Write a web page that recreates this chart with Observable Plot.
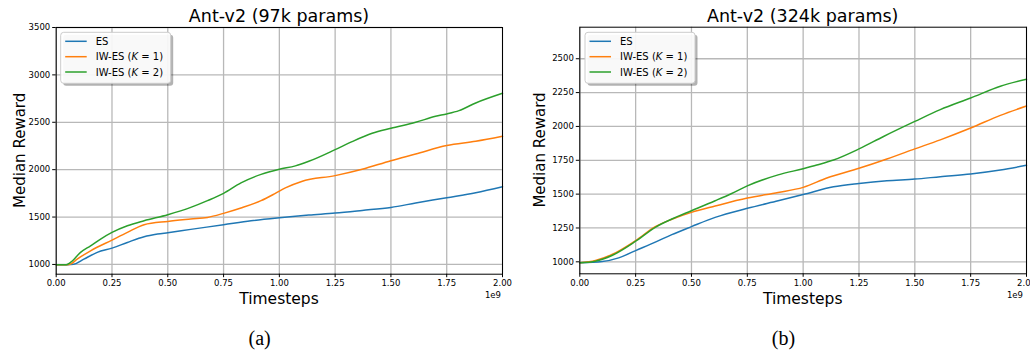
<!DOCTYPE html>
<html><head><meta charset="utf-8">
<script src="https://cdn.jsdelivr.net/npm/d3@7"></script>
<script src="https://cdn.jsdelivr.net/npm/@observablehq/plot@0.6"></script>
<style>
body{margin:0;background:#fff;}
#root{position:relative;width:1030px;height:352px;overflow:hidden;background:#fff}
#root svg{position:absolute;top:0}
</style>
</head><body><div id="root"></div>
<script>
// ---------- data (timesteps in units of 1e9) ----------
const seriesNames = ["ES", "IW-ES (K = 1)", "IW-ES (K = 2)"];
const seriesColors = ["#1f77b4", "#ff7f0e", "#2ca02c"];
const xTicks = [0, 0.25, 0.5, 0.75, 1.0, 1.25, 1.5, 1.75, 2.0];

// Panel (a): Ant-v2 (97k params)
const a_es_t = [0, 0.05, 0.079, 0.124, 0.184, 0.25, 0.319, 0.394, 0.454, 0.5, 0.603, 0.75, 0.873, 1.0, 1.132, 1.25, 1.371, 1.5, 1.611, 1.75, 1.88, 2.0];
const a_es_v = [998, 998, 1003, 1056, 1127, 1172, 1232, 1292, 1320, 1335, 1370, 1419, 1461, 1493, 1521, 1542, 1570, 1602, 1648, 1704, 1757, 1820];
const a_k1_t = [0, 0.05, 0.064, 0.094, 0.154, 0.25, 0.319, 0.394, 0.5, 0.603, 0.678, 0.75, 0.828, 0.918, 0.982, 1.027, 1.10, 1.25, 1.371, 1.5, 1.611, 1.75, 1.88, 2.0];
const a_k1_v = [998, 998, 1003, 1056, 1144, 1257, 1338, 1419, 1454, 1479, 1496, 1539, 1595, 1673, 1750, 1808, 1876, 1937, 2004, 2095, 2165, 2254, 2299, 2352];
const a_k2_t = [0, 0.045, 0.064, 0.109, 0.154, 0.199, 0.25, 0.319, 0.394, 0.5, 0.603, 0.678, 0.75, 0.828, 0.918, 1.0, 1.072, 1.132, 1.25, 1.326, 1.416, 1.5, 1.611, 1.70, 1.75, 1.805, 1.88, 2.0];
const a_k2_v = [998, 998, 1021, 1127, 1197, 1268, 1338, 1408, 1461, 1525, 1602, 1673, 1750, 1860, 1950, 2004, 2040, 2088, 2211, 2296, 2384, 2437, 2500, 2563, 2588, 2623, 2704, 2806];
const a_yTicks = [1000, 1500, 2000, 2500, 3000, 3500];

// Panel (b): Ant-v2 (324k params)
const b_es_t = [0, 0.1, 0.174, 0.25, 0.338, 0.412, 0.5, 0.606, 0.75, 0.888, 1.0, 1.136, 1.25, 1.375, 1.5, 1.614, 1.75, 1.883, 2.0];
const b_es_v = [993, 1002, 1029, 1083, 1145, 1201, 1260, 1328, 1395, 1451, 1497, 1554, 1579, 1599, 1611, 1629, 1649, 1678, 1713];
const b_k1_t = [0, 0.07, 0.144, 0.25, 0.338, 0.412, 0.5, 0.606, 0.75, 0.888, 1.0, 1.106, 1.25, 1.375, 1.5, 1.614, 1.75, 1.883, 2.0];
const b_k1_v = [993, 1010, 1054, 1157, 1260, 1314, 1365, 1412, 1471, 1512, 1550, 1619, 1691, 1760, 1834, 1901, 1988, 2082, 2151];
const b_k2_t = [0, 0.07, 0.144, 0.25, 0.338, 0.412, 0.5, 0.606, 0.68, 0.75, 0.888, 1.0, 1.061, 1.136, 1.25, 1.36, 1.5, 1.614, 1.75, 1.883, 2.0];
const b_k2_v = [993, 1005, 1047, 1152, 1255, 1316, 1377, 1451, 1505, 1561, 1642, 1688, 1715, 1752, 1834, 1926, 2037, 2124, 2210, 2297, 2349];
const b_yTicks = [1000, 1250, 1500, 1750, 2000, 2250, 2500];

function rows(pairs) {
  const out = [];
  pairs.forEach(([t, v], i) => t.forEach((tt, j) => out.push({s: seriesNames[i], t: tt, v: v[j]})));
  return out;
}

const FONT = "DejaVu Sans, sans-serif";

function panel(cfg) {
  const chart = Plot.plot({
    width: 515, height: 352,
    marginLeft: cfg.mL, marginRight: cfg.mR, marginTop: cfg.mT, marginBottom: cfg.mB,
    style: {fontFamily: FONT, fontSize: "8.5px", color: "#000", background: "transparent", overflow: "visible"},
    x: {domain: [0, 2], label: null},
    y: {domain: cfg.yDomain, label: null},
    color: {domain: seriesNames, range: seriesColors},
    marks: [
      Plot.gridX(xTicks, {stroke: "#b8b8b8", strokeOpacity: 1, strokeWidth: 1.3}),
      Plot.gridY(cfg.yTicks, {stroke: "#b8b8b8", strokeOpacity: 1, strokeWidth: 1.3}),
      Plot.line(cfg.data, {x: "t", y: "v", stroke: "s", curve: "monotone-x", strokeWidth: 1.5}),
      Plot.frame({stroke: "#000", strokeWidth: 1}),
      Plot.axisX({ticks: xTicks, tickFormat: d3.format(".2f"), tickSize: 3.5, tickPadding: 2.5, label: null, stroke: "#000"}),
      Plot.axisY({ticks: cfg.yTicks, tickFormat: d => String(d), tickSize: 3.5, tickPadding: 2.5, label: null, stroke: "#000"})
    ]
  });
  chart.style.left = cfg.left + "px";
  const svg = d3.select(chart);
  const txt = (x, y, s, size, anchor, fam) => svg.append("text")
    .attr("x", x).attr("y", y).attr("text-anchor", anchor || "middle")
    .attr("font-family", fam || FONT).attr("font-size", size).attr("fill", "#000").text(s);
  txt(cfg.cx, 21.5, cfg.title, 17.5);
  txt(cfg.cx, 304, "Timesteps", 15.5);
  txt(cfg.e9x, 297.5, "1e9", 8.5, "end");
  txt(cfg.tagX, 344.5, cfg.tag, 20, "middle", "Liberation Serif, serif");
  svg.append("text").attr("transform", `translate(${cfg.ylx},${(cfg.mT + 352 - cfg.mB) / 2}) rotate(-90)`)
    .attr("text-anchor", "middle").attr("font-family", FONT).attr("font-size", 15).attr("fill", "#000")
    .text("Median Reward");
  // legend
  const lx = cfg.legX, ly = 32.3;
  svg.append("rect").attr("x", lx + 2.5).attr("y", ly + 2.5).attr("width", 110).attr("height", 51).attr("rx", 3).attr("fill", "rgba(0,0,0,0.3)");
  svg.append("rect").attr("x", lx).attr("y", ly).attr("width", 110).attr("height", 51).attr("rx", 3)
    .attr("fill", "#fff").attr("fill-opacity", 0.92).attr("stroke", "#cccccc").attr("stroke-width", 1);
  const rowsY = [9, 24.4, 39.7];
  seriesNames.forEach((name, i) => {
    svg.append("line").attr("x1", lx + 4.5).attr("x2", lx + 26).attr("y1", ly + rowsY[i]).attr("y2", ly + rowsY[i])
      .attr("stroke", seriesColors[i]).attr("stroke-width", 1.5);
    const t = svg.append("text").attr("x", lx + 35).attr("y", ly + rowsY[i] + 3.6)
      .attr("text-anchor", "start").attr("font-family", FONT)
      .attr("font-size", 10).attr("fill", "#000");
    if (i === 0) t.text(name);
    else {
      t.append("tspan").attr("x", lx + 35).text("IW-ES (");
      t.append("tspan").attr("font-style", "italic").text("K");
      t.append("tspan").text(" = " + i + ")");
    }
  });
  return chart;
}

const root = document.getElementById("root");
root.appendChild(panel({
  left: 0, mL: 55.7, mR: 13, mT: 27, mB: 78.3,
  yDomain: [897, 3500], yTicks: a_yTicks,
  data: rows([[a_es_t, a_es_v], [a_k1_t, a_k1_v], [a_k2_t, a_k2_v]]),
  title: "Ant-v2 (97k params)", tag: "(a)", cx: 279, e9x: 501, tagX: 259.6, ylx: 25, legX: 60.7
}));
root.appendChild(panel({
  left: 515, mL: 64.3, mR: 4, mT: 26.7, mB: 78.7,
  yDomain: [911.5, 2733], yTicks: b_yTicks,
  data: rows([[b_es_t, b_es_v], [b_k1_t, b_k1_v], [b_k2_t, b_k2_v]]),
  title: "Ant-v2 (324k params)", tag: "(b)", cx: 287.7, e9x: 508, tagX: 268.5, ylx: 30, legX: 70
}));
</script>
</body></html>
